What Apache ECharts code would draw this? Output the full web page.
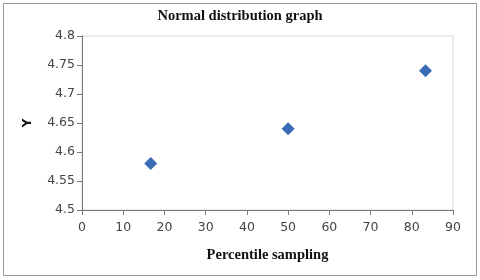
<!DOCTYPE html>
<html><head><meta charset="utf-8">
<script src="https://cdn.jsdelivr.net/npm/echarts@6/dist/echarts.min.js"></script>
<style>html,body{margin:0;padding:0;background:#fff}#c{width:480px;height:280px}</style>
</head><body><div id="c"></div>
<script>
const xValues = [16.67, 50, 83.33];
const yValues = [4.58, 4.64, 4.74];
const xTicks = [0, 10, 20, 30, 40, 50, 60, 70, 80, 90];
const yTicks = [4.5, 4.55, 4.6, 4.65, 4.7, 4.75, 4.8];
const titleText = 'Normal distribution graph';
const xName = 'Percentile sampling';
const yName = 'Y';

const chart = echarts.init(document.getElementById('c'));
chart.setOption({
  animation: false,
  backgroundColor: '#fff',
  title: {text: titleText, left: 'center', top: 4,
    textStyle: {fontFamily: 'Liberation Serif', fontWeight: 'bold', fontSize: 14.5, color: '#111'}},
  graphic: [{type: 'rect', shape: {x: 3.5, y: 3.5, width: 473, height: 272},
    style: {fill: null, stroke: '#999', lineWidth: 1}, silent: true}],
  grid: {left: 82, right: 27, top: 36, bottom: 70, show: true, borderColor: '#d9d9d9', borderWidth: 1},
  xAxis: {type: 'value', min: xTicks[0], max: xTicks[xTicks.length - 1], interval: 10,
    name: xName, nameLocation: 'middle', nameGap: 38,
    nameTextStyle: {fontFamily: 'Liberation Serif', fontWeight: 'bold', fontSize: 14.5, color: '#111'},
    axisLine: {show: true, lineStyle: {color: '#777'}},
    axisTick: {show: true, length: 5, lineStyle: {color: '#777'}},
    axisLabel: {fontFamily: 'DejaVu Sans', fontSize: 12.5, color: '#444', margin: 11},
    splitLine: {show: false}},
  yAxis: {type: 'value', min: 4.5, max: 4.8, interval: 0.05,
    name: yName, nameLocation: 'middle', nameGap: 48, nameRotate: 90,
    nameTextStyle: {fontFamily: 'DejaVu Sans', fontWeight: 'bold', fontSize: 12, color: '#111'},
    axisLine: {show: true, lineStyle: {color: '#777'}},
    axisTick: {show: true, length: 5, lineStyle: {color: '#777'}},
    axisLabel: {fontFamily: 'DejaVu Sans', fontSize: 12.5, color: '#444', margin: 7,
      formatter: v => String(parseFloat(v.toFixed(2)))},
    splitLine: {show: false}},
  series: [{type: 'scatter', symbol: 'diamond', symbolSize: 13,
    itemStyle: {color: '#3a6cb5', opacity: 1},
    data: xValues.map((x, i) => [x, yValues[i]])}]
});
</script></body></html>
